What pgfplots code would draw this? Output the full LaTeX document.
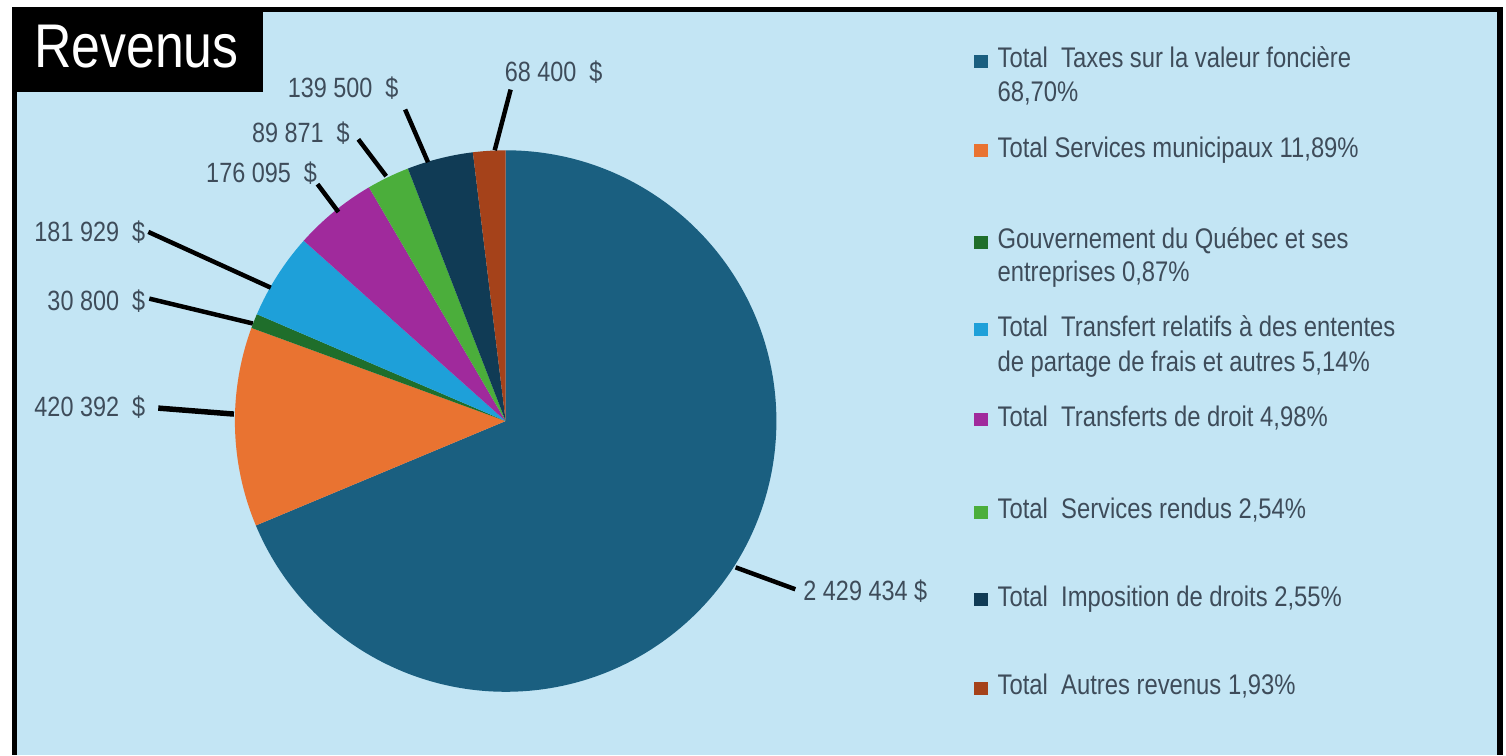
\documentclass[border=0pt]{standalone}
\usepackage{fontspec}
\setmainfont{Liberation Sans}[FakeStretch=0.84]
\usepackage{pgfplots}
\usepackage{pgfplotstable}
\pgfplotsset{compat=1.18}

\definecolor{bg}{HTML}{C3E5F4}
\definecolor{txt}{HTML}{3E4C5A}
\definecolor{sl0}{HTML}{1A5F80}
\definecolor{sl1}{HTML}{E97331}
\definecolor{sl2}{HTML}{1F6E2B}
\definecolor{sl3}{HTML}{1EA0D9}
\definecolor{sl4}{HTML}{A02A9C}
\definecolor{sl5}{HTML}{4BAE3B}
\definecolor{sl6}{HTML}{103B55}
\definecolor{sl7}{HTML}{A5421A}

% revenus en dollars, dans l'ordre horaire depuis le haut
\pgfplotstableread{
poste valeur
Taxes 2429434
Services 420392
Quebec 30800
Transfert 181929
Droit 176095
Rendus 89871
Imposition 139500
Autres 68400
}\revenus

\begin{document}
% cumuls et angles des secteurs (fpu: les montants depassent 16383)
\gdef\runningsum{0}
\foreach \i in {0,...,7}{%
  \pgfkeys{/pgf/fpu=true,/pgf/fpu/output format=fixed}%
  \pgfplotstablegetelem{\i}{valeur}\of\revenus
  \pgfmathparse{\runningsum+\pgfplotsretval}%
  \xdef\runningsum{\pgfmathresult}%
  \expandafter\xdef\csname cum\i\endcsname{\pgfmathresult}%
}
\foreach \i in {0,...,7}{%
  \pgfkeys{/pgf/fpu=true,/pgf/fpu/output format=fixed}%
  \pgfplotstablegetelem{\i}{valeur}\of\revenus
  \pgfmathparse{90-360*(\csname cum\i\endcsname-\pgfplotsretval)/\runningsum}%
  \expandafter\xdef\csname st\i\endcsname{\pgfmathresult}%
  \pgfmathparse{90-360*\csname cum\i\endcsname/\runningsum}%
  \expandafter\xdef\csname en\i\endcsname{\pgfmathresult}%
}
\begin{tikzpicture}
\begin{axis}[
    width=1506pt, height=759pt, scale only axis,
    xmin=0, xmax=1506, ymin=0, ymax=759, y dir=reverse,
    hide axis, clip=false,
]
  % fond et cadre
  \fill[white] (axis cs:0,0) rectangle (axis cs:1506,759);
  \fill[bg] (axis cs:10,12) rectangle (axis cs:1497,759);
  \fill[black] (axis cs:5,7) rectangle (axis cs:10.5,759);
  \fill[black] (axis cs:5,7) rectangle (axis cs:1503,12.5);
  \fill[black] (axis cs:1497,7) rectangle (axis cs:1503,759);
  % titre
  \fill[black] (axis cs:10,12) rectangle (axis cs:257,92);
  \node[anchor=base west, inner sep=0, text=white, font=\fontsize{62}{70}\selectfont]
    at (axis cs:27,68) {Revenus};

  % secteurs
  \pgfplotsinvokeforeach{0,...,7}{%
    \edef\tmp{\noexpand\fill[sl#1] (axis cs:501,423) -- ++(\csname st#1\endcsname:272pt)
      arc[start angle=\csname st#1\endcsname, end angle=\csname en#1\endcsname, radius=272pt] -- cycle;}%
    \tmp
  }

  % lignes de rappel
  \draw[line width=4.5pt] (axis cs:732,570) -- (axis cs:792,592);
  \draw[line width=5.5pt] (axis cs:152,410) -- (axis cs:228,416);
  \draw[line width=4.5pt] (axis cs:143,300) -- (axis cs:247,325);
  \draw[line width=4.5pt] (axis cs:142,233) -- (axis cs:265,289);
  \draw[line width=4.5pt] (axis cs:312,185) -- (axis cs:333,213);
  \draw[line width=4.5pt] (axis cs:353,140) -- (axis cs:381,177);
  \draw[line width=4.5pt] (axis cs:400,110) -- (axis cs:423,163);
  \draw[line width=4.5pt] (axis cs:506,90) -- (axis cs:490,151);

  % etiquettes
  \begin{scope}[every node/.style={inner sep=0, text=txt, font=\fontsize{28}{34}\selectfont}]
    \node[anchor=base west] at (axis cs:800,603) {2 429 434 \$};
    \node[anchor=base east] at (axis cs:139,418) {420 392~~\$};
    \node[anchor=base east] at (axis cs:139,312) {30 800~~\$};
    \node[anchor=base east] at (axis cs:139,243) {181 929~~\$};
    \node[anchor=base west] at (axis cs:200,183) {176 095~~\$};
    \node[anchor=base west] at (axis cs:246,143) {89 871~~\$};
    \node[anchor=base west] at (axis cs:282,98) {139 500~~\$};
    \node[anchor=base west] at (axis cs:500,82) {68 400~~\$};
  \end{scope}

  % legende
  \begin{scope}[every node/.style={inner sep=0, anchor=base west, text=txt, font=\fontsize{28.5}{34}\selectfont}]
    \fill[sl0] (axis cs:972,55) rectangle (axis cs:986,68);
    \node at (axis cs:995,68) {Total~~Taxes sur la valeur foncière};
    \node at (axis cs:995,102) {68,70\%};
    \fill[sl1] (axis cs:972,145) rectangle (axis cs:986,158);
    \node at (axis cs:995,158) {Total Services municipaux 11,89\%};
    \fill[sl2] (axis cs:972,237) rectangle (axis cs:986,250);
    \node at (axis cs:995,250) {Gouvernement du Québec et ses};
    \node at (axis cs:995,283) {entreprises 0,87\%};
    \fill[sl3] (axis cs:972,325) rectangle (axis cs:986,338);
    \node at (axis cs:995,338) {Total~~Transfert relatifs à des ententes};
    \node at (axis cs:995,373) {de partage de frais et autres 5,14\%};
    \fill[sl4] (axis cs:972,415) rectangle (axis cs:986,428);
    \node at (axis cs:995,428) {Total~~Transferts de droit 4,98\%};
    \fill[sl5] (axis cs:972,508) rectangle (axis cs:986,521);
    \node at (axis cs:995,521) {Total~~Services rendus 2,54\%};
    \fill[sl6] (axis cs:972,596) rectangle (axis cs:986,609);
    \node at (axis cs:995,609) {Total~~Imposition de droits 2,55\%};
    \fill[sl7] (axis cs:972,685) rectangle (axis cs:986,698);
    \node at (axis cs:995,698) {Total~~Autres revenus 1,93\%};
  \end{scope}
\end{axis}
\end{tikzpicture}
\end{document}
